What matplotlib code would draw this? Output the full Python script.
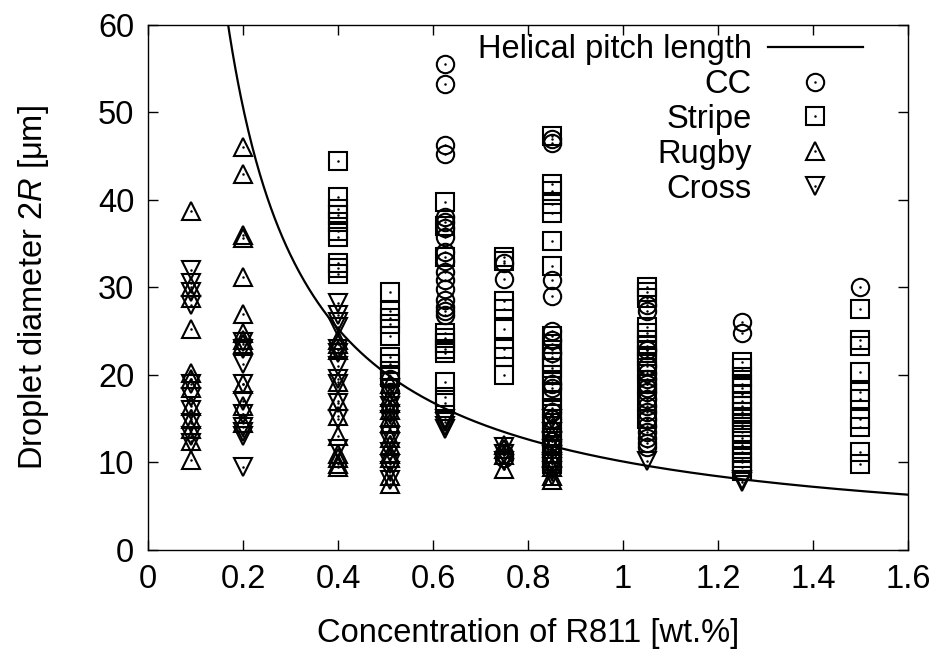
import numpy as np
import matplotlib
matplotlib.use("Agg")
import matplotlib.pyplot as plt
from matplotlib.legend_handler import HandlerTuple

plt.rcParams['font.family'] = ['Liberation Sans', 'DejaVu Sans']
plt.rcParams['mathtext.fontset'] = 'custom'
plt.rcParams['mathtext.it'] = 'Liberation Sans:italic'
plt.rcParams['mathtext.rm'] = 'Liberation Sans'

# ---- data ----
cc = {
    0.51: [19.5, 18.0],
    0.625: [55.5, 53.2, 46.3, 45.3, 38.0, 37.5, 36.8, 35.8, 34.0, 33.0, 31.8,
            30.8, 29.8, 28.6, 27.8, 27.3, 26.8],
    0.75: [32.8, 31.0, 11.0, 10.5],
    0.85: [47.0, 46.5, 30.8, 29.0, 25.0, 24.0, 22.5, 19.0, 18.5, 15.8, 15.0, 12.5, 12.0],
    1.05: [28.0, 27.3, 22.8, 21.0, 20.2, 19.5, 19.0, 18.5, 18.0, 17.2, 16.5, 15.8,
           15.0, 14.2, 13.5, 12.8, 12.2, 11.8],
    1.25: [26.0, 24.8],
    1.5: [30.0],
}
stripe = {
    0.4: [44.5, 40.3, 39.0, 38.3, 37.5, 36.5, 35.8, 32.8, 32.2, 31.5],
    0.51: [29.5, 27.3, 26.5, 25.8, 24.5, 22.0, 21.3, 20.5, 19.8],
    0.625: [39.8, 37.0, 33.5, 24.8, 24.2, 23.6, 23.0, 22.5, 19.2, 17.5, 16.8],
    0.75: [33.5, 33.0, 28.5, 27.5, 25.2, 23.0, 22.0, 20.0],
    0.85: [47.3, 41.8, 41.0, 39.5, 38.5, 35.3, 32.5, 24.5, 23.5, 22.8, 22.0, 21.5,
           20.8, 20.0, 19.2, 18.0, 17.0, 16.2, 15.5, 14.5, 13.5, 12.8, 12.0, 11.0,
           10.2, 9.8],
    1.05: [30.0, 29.5, 28.8, 25.5, 24.8, 24.0, 23.3, 22.8, 22.2, 21.5, 20.5, 19.0,
           17.0, 15.0],
    1.25: [21.5, 20.8, 19.8, 19.0, 18.5, 17.8, 17.0, 16.5, 15.8, 15.2, 14.5, 14.0,
           13.5, 12.8, 12.0, 11.2, 10.5, 10.0, 9.5, 9.0],
    1.5: [27.5, 24.0, 23.3, 20.3, 18.0, 17.3, 15.0, 14.0, 11.2, 9.8],
}
rugby = {
    0.09: [38.7, 30.0, 28.8, 25.3, 20.2, 19.5, 18.5, 16.5, 15.0, 13.8, 12.5, 10.3],
    0.2: [46.0, 43.0, 36.0, 35.6, 31.2, 27.0, 24.8, 24.0, 23.5, 19.0, 16.5, 14.5],
    0.4: [24.0, 23.5, 22.8, 19.2, 17.0, 15.3, 13.0, 11.0, 10.5, 9.8, 9.5],
    0.51: [19.0, 17.5, 16.8, 16.0, 15.2, 14.5, 12.8, 12.0, 11.0, 10.5, 8.5, 7.5],
    0.75: [12.0, 11.5, 10.8, 9.2],
    0.85: [14.5, 13.0, 12.0, 10.5, 9.5, 8.5, 8.0],
}
cross = {
    0.09: [32.0, 30.5, 29.5, 28.0, 19.0, 17.5, 16.0, 14.5, 13.0, 12.2],
    0.2: [23.8, 23.0, 21.2, 19.0, 17.0, 15.5, 14.0, 13.5, 13.0, 9.5],
    0.4: [28.2, 26.8, 26.0, 25.5, 23.0, 22.5, 21.0, 19.5, 19.0, 16.8, 15.0, 11.5],
    0.51: [18.5, 17.8, 16.5, 15.5, 14.8, 13.0, 12.3, 11.2, 9.8, 9.0, 8.0],
    0.625: [15.0, 14.6, 14.2, 13.8],
    0.75: [11.8, 11.0, 10.2],
    0.85: [15.0, 13.5, 12.5, 11.5, 10.0, 9.5, 9.0, 8.5],
    1.05: [10.2],
    1.25: [8.0, 7.8],
}
pitch_const = 10.1   # helical pitch [um * wt.%]

x_ticks = [0, 0.2, 0.4, 0.6, 0.8, 1.0, 1.2, 1.4, 1.6]
x_tick_labels = ["0", "0.2", "0.4", "0.6", "0.8", "1", "1.2", "1.4", "1.6"]
y_ticks = [0, 10, 20, 30, 40, 50, 60]


def flatten(d):
    xs, ys = [], []
    for k, v in d.items():
        xs += [k] * len(v)
        ys += v
    return np.array(xs), np.array(ys)


fig = plt.figure(figsize=(9.38, 6.57), dpi=100)
ax = fig.add_axes([0.158, 0.163, 0.810, 0.799])

fs = 23.5
cgrid = np.linspace(0.01, 1.6, 800)
line, = ax.plot(cgrid, pitch_const / cgrid, color='black', lw=1.6,
                label='Helical pitch length')

series = [("CC", cc, 'o', 12.5), ("Stripe", stripe, 's', 12.5),
          ("Rugby", rugby, '^', 12.5), ("Cross", cross, 'v', 12.5)]
handles = [line]
labels = ['Helical pitch length']
for name, d, m, ms in series:
    xs, ys = flatten(d)
    h, = ax.plot(xs, ys, ls='none', marker=m, ms=ms, mfc='none', mec='black',
                 mew=1.5)
    hd, = ax.plot(xs, ys, ls='none', marker='o', ms=1.8, mfc='black',
                  mec='black', mew=0)
    handles.append((h, hd))
    labels.append(name)

ax.set_xlim(0, 1.6)
ax.set_ylim(0, 60)
ax.set_xticks(x_ticks)
ax.set_xticklabels(x_tick_labels)
ax.set_yticks(y_ticks)
ax.tick_params(direction='in', length=7, width=1, top=True, right=True,
               labelsize=fs, pad=10)
for s in ax.spines.values():
    s.set_linewidth(1.0)

ax.set_xlabel("Concentration of R811 [wt.%]", fontsize=fs, labelpad=17)
ax.set_ylabel(r"Droplet diameter 2$R$ [$\mathrm{\mu}$m]", fontsize=fs, labelpad=34)

leg = ax.legend(handles, labels, loc='upper right', bbox_to_anchor=(0.966, 1.02),
                frameon=False, markerfirst=False, fontsize=fs, handlelength=2.9,
                handletextpad=0.5, labelspacing=0.12, borderaxespad=0.2,
                handler_map={tuple: HandlerTuple(ndivide=1)}, numpoints=1)

fig.savefig("out.png", dpi=100)
